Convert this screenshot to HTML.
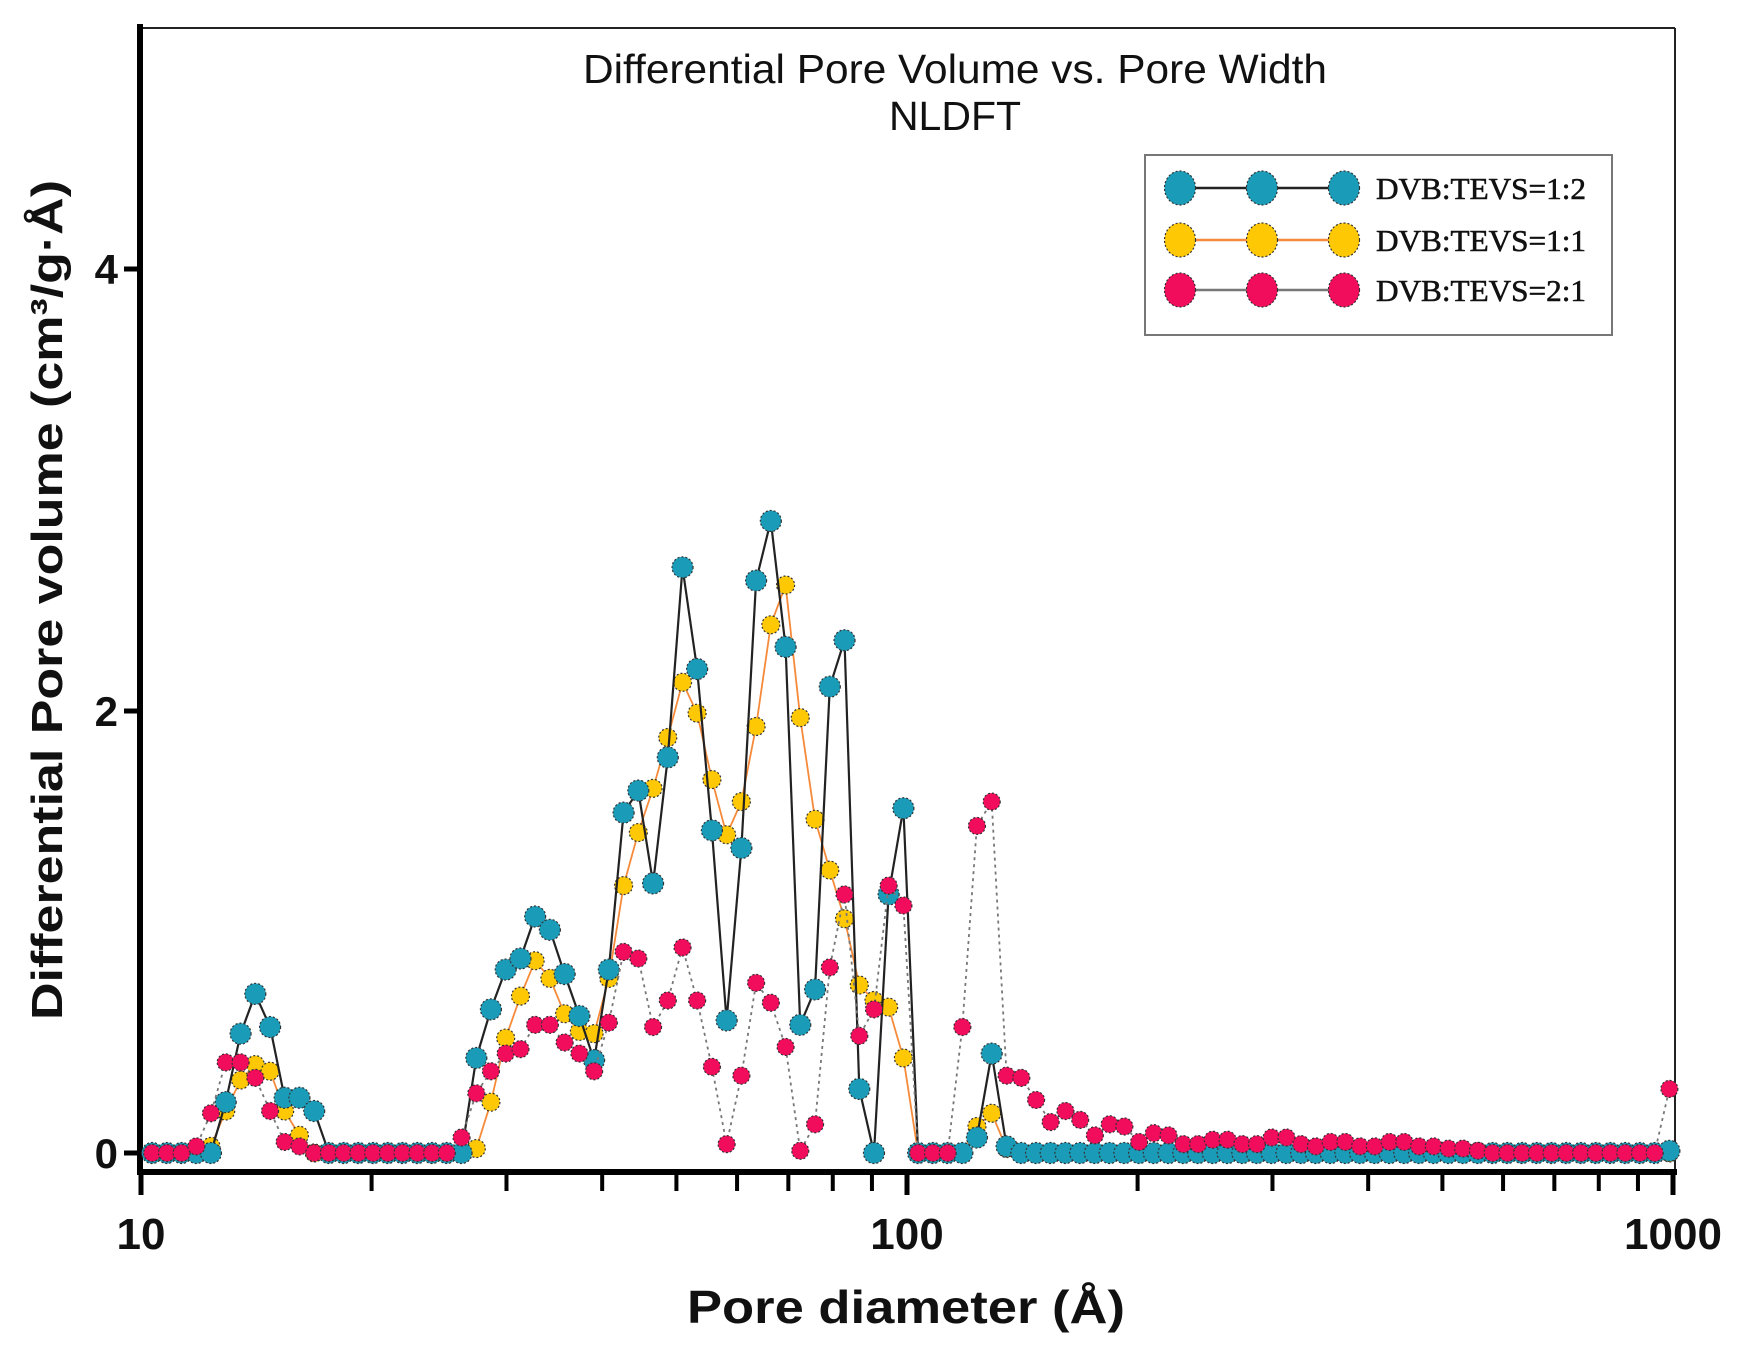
<!DOCTYPE html>
<html><head><meta charset="utf-8"><style>
html,body{margin:0;padding:0;background:#fff;}
svg{display:block;}
</style></head><body>
<svg id="chart" width="1737" height="1353" viewBox="0 0 1737 1353" xmlns="http://www.w3.org/2000/svg">
<rect x="0" y="0" width="1737" height="1353" fill="#fff"/>
<g id="frame">
<line x1="140" y1="28" x2="1675" y2="28" stroke="#222" stroke-width="2"/>
<line x1="1675" y1="28" x2="1675" y2="1172" stroke="#222" stroke-width="2"/>
<line x1="140" y1="24" x2="140" y2="1175" stroke="#000" stroke-width="6"/>
<line x1="137" y1="1172" x2="1677" y2="1172" stroke="#000" stroke-width="6"/>
</g>
<g id="ticks"></g>
<g id="series"></g>
<text x="955" y="83" font-family="Liberation Sans, sans-serif" font-size="41" text-anchor="middle" textLength="744" lengthAdjust="spacingAndGlyphs" fill="#111">Differential Pore Volume vs. Pore Width</text>
<text x="955" y="130" font-family="Liberation Sans, sans-serif" font-size="41" text-anchor="middle" fill="#111">NLDFT</text>
<text transform="translate(62,600) rotate(-90)" font-family="Liberation Sans, sans-serif" font-size="44" font-weight="bold" text-anchor="middle" textLength="840" lengthAdjust="spacingAndGlyphs" fill="#111">Differential Pore volume (cm³/g·Å)</text>
<text x="906" y="1323" font-family="Liberation Sans, sans-serif" font-size="46" font-weight="bold" text-anchor="middle" textLength="438" lengthAdjust="spacingAndGlyphs" fill="#111">Pore diameter (Å)</text>
<g id="legend">
<rect x="1145" y="155" width="467" height="180" fill="#fff" stroke="#777" stroke-width="2"/>
</g>
</svg>
<script>
const poreDiameter = [10.34,10.81,11.30,11.81,12.34,12.90,13.49,14.10,14.74,15.40,16.10,16.83,17.59,18.39,19.22,20.09,21.00,21.95,22.95,23.99,25.07,26.21,27.40,28.63,29.93,31.29,32.70,34.18,35.73,37.35,39.04,40.81,42.66,44.59,46.61,48.72,50.93,53.21,55.63,58.15,60.78,63.53,66.41,69.42,72.55,75.85,79.29,82.88,86.64,90.55,94.63,98.92,103.4,108.1,113.0,118.1,123.4,129.0,134.9,141.0,147.4,154.0,161.0,168.3,175.9,183.9,192.2,200.9,210.0,219.5,229.5,239.9,250.7,262.1,274.0,286.3,299.3,312.9,327.0,341.8,357.3,373.5,390.4,408.1,426.6,445.9,466.1,487.2,509.3,532.1,556.3,581.5,607.8,635.3,664.1,694.2,725.5,758.5,792.9,828.8,866.4,905.5,946.3,989.2];
const seriesA = [0,0,0,0,0,0.23,0.54,0.72,0.57,0.25,0.25,0.19,0,0,0,0,0,0,0,0,0,0,0.43,0.65,0.83,0.88,1.07,1.01,0.81,0.62,0.42,0.83,1.54,1.64,1.22,1.79,2.65,2.19,1.46,0.60,1.38,2.59,2.86,2.29,0.58,0.74,2.11,2.32,0.29,0,1.17,1.56,0,0,0,0,0.07,0.45,0.03,0,0,0,0,0,0,0,0,0,0,0,0,0,0,0,0,0,0,0,0,0,0,0,0,0,0,0,0,0,0,0,0,0,0,0,0,0,0,0,0,0,0,0,0,0.01];
const seriesB = [0,0,0,0,0.03,0.19,0.33,0.40,0.37,0.19,0.08,0,0,0,0,0,0,0,0,0,0,0,0.02,0.23,0.52,0.71,0.87,0.79,0.63,0.55,0.54,0.79,1.21,1.45,1.65,1.88,2.13,1.99,1.69,1.44,1.59,1.93,2.39,2.57,1.97,1.51,1.28,1.06,0.76,0.69,0.66,0.43,0,0,0,0,0.12,0.18,0.02,0,0,0,0,0,0,0,0,0,0,0,0,0,0,0,0,0,0,0,0,0,0,0,0,0,0,0,0,0,0,0,0,0,0,0,0,0,0,0,0,0,0,0,0,0];
const seriesC = [0,0,0,0.03,0.18,0.41,0.41,0.34,0.19,0.05,0.03,0,0,0,0,0,0,0,0,0,0,0.07,0.27,0.37,0.45,0.47,0.58,0.58,0.50,0.45,0.37,0.59,0.91,0.88,0.57,0.69,0.93,0.69,0.39,0.04,0.35,0.77,0.68,0.48,0.01,0.13,0.84,1.17,0.53,0.65,1.21,1.12,0,0,0,0.57,1.48,1.59,0.35,0.34,0.24,0.14,0.19,0.15,0.08,0.13,0.12,0.05,0.09,0.08,0.04,0.04,0.06,0.06,0.04,0.04,0.07,0.07,0.04,0.03,0.05,0.05,0.03,0.03,0.05,0.05,0.03,0.03,0.02,0.02,0.01,0,0,0,0,0,0,0,0,0,0,0,0,0.29];
const seriesNames = ["DVB:TEVS=1:2","DVB:TEVS=1:1","DVB:TEVS=2:1"];
const yTickValues = [0,2,4];
const yTickLabels = ["0","2","4"];
const xMajorValues = [10,100,1000];
const xMajorLabels = ["10","100","1000"];
const xMinorValues = [20,30,40,50,60,70,80,90,200,300,400,500,600,700,800,900];

const NS = "http://www.w3.org/2000/svg";
function xScale(v){ return 141 + (Math.log10(v) - 1) * 766; }
function yScale(v){ return 1153 - v * 221; }
function mk(tag, attrs, parent){ const e = document.createElementNS(NS, tag); for (const k in attrs) e.setAttribute(k, attrs[k]); parent.appendChild(e); return e; }

const ticks = document.getElementById('ticks');
yTickValues.forEach((v,i)=>{
  const t = mk('line',{x1:124,x2:140,y1:yScale(v),y2:yScale(v),stroke:'#000','stroke-width':5},ticks);
  
  
  const l = mk('text',{x:118,y:yScale(v)+15,'text-anchor':'end','font-family':'Liberation Sans, sans-serif','font-size':42,'font-weight':'bold',fill:'#111'},ticks);
  l.textContent = yTickLabels[i];
  
  
});
xMajorValues.forEach((v,i)=>{
  const t = mk('line',{x1:xScale(v),x2:xScale(v),y1:1172,y2:1195,stroke:'#000','stroke-width':5},ticks);
  
  
  const l = mk('text',{x:xScale(v),y:1249,'text-anchor':'middle','font-family':'Liberation Sans, sans-serif','font-size':44,'font-weight':'bold',fill:'#111'},ticks);
  l.textContent = xMajorLabels[i];
  
  
});
xMinorValues.forEach(v=>{
  const t = mk('line',{x1:xScale(v),x2:xScale(v),y1:1172,y2:1191,stroke:'#000','stroke-width':4},ticks);
  
  
});

const styles = [
  {fill:'#1a9cb9', line:'#222', lw:2.2, dash:'', r:10.5},
  {fill:'#ffc805', line:'#f58a3a', lw:1.8, dash:'', r:9},
  {fill:'#f20c5c', line:'#777', lw:1.8, dash:'3,4', r:8.5}
];
const allSeries = [seriesA, seriesB, seriesC];
const drawOrder = [1, 0, 2];
const seriesLayer = document.getElementById('series');
drawOrder.forEach(si=>{
  const vals = allSeries[si];
  const st = styles[si];
  const g = mk('g',{},seriesLayer);
  
  
  const pts = vals.map((v,i)=> xScale(poreDiameter[i]).toFixed(1) + ',' + yScale(v).toFixed(1)).join(' ');
  const pl = mk('polyline',{points:pts,fill:'none',stroke:st.line,'stroke-width':st.lw,'stroke-dasharray':st.dash,'stroke-linejoin':'round'},g);
  
  
  vals.forEach((v,i)=>{
    const c = mk('circle',{cx:xScale(poreDiameter[i]),cy:yScale(v),r:st.r,fill:st.fill,stroke:'#333','stroke-width':1.2,'stroke-dasharray':'2,2'},g);
    
    
  });
});

const legend = document.getElementById('legend');
const rowY = [188, 240, 290];
seriesNames.forEach((name, si)=>{
  const st = styles[si];
  const g = mk('g',{},legend);
  
  
  const ln = mk('line',{x1:1180,x2:1344,y1:rowY[si],y2:rowY[si],stroke:st.line,'stroke-width':2.5},g);
  
  
  [1180,1262,1344].forEach(cx=>{
    const m = mk('ellipse',{cx:cx,cy:rowY[si],rx:15.5,ry:17,fill:st.fill,stroke:'#333','stroke-width':1.2,'stroke-dasharray':'2,2'},g);
    
    
  });
  const t = mk('text',{x:1376,y:rowY[si]+11,'font-family':'Liberation Serif, serif','font-size':31,fill:'#111',stroke:'#111','stroke-width':0.6,textLength:210,lengthAdjust:'spacingAndGlyphs'},g);
  t.textContent = name;
  
  
});
</script>
</body></html>
